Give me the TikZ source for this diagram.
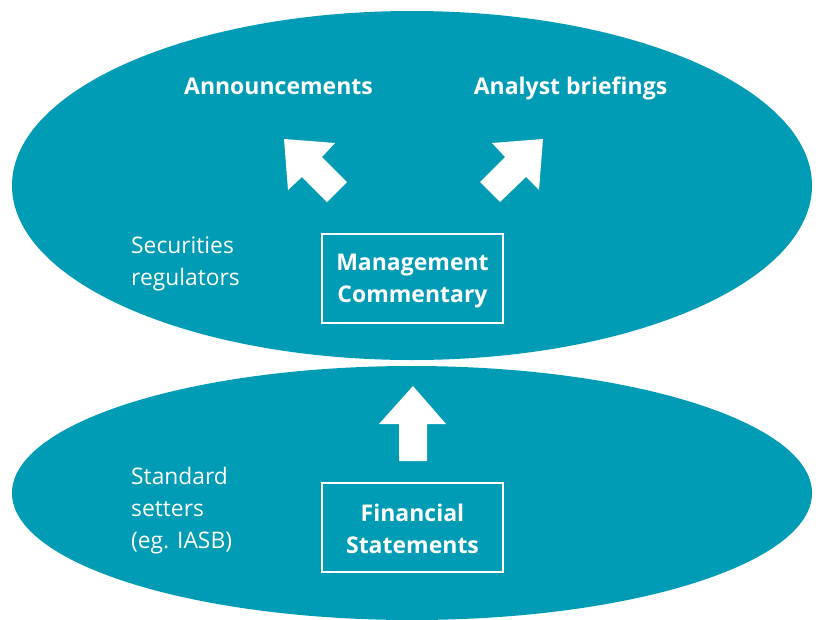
\documentclass[tikz,border=0pt]{standalone}
\usepackage{fontspec}
\setmainfont{Open Sans}
\usepackage{tikz}
\usetikzlibrary{positioning}

\definecolor{ovalteal}{RGB}{0,155,180}

\tikzset{
  label text/.style={text=white, font=\fontsize{22.8}{32}\selectfont, align=left, inner sep=0pt},
  head text/.style={text=white, font=\fontsize{23}{32}\selectfont\bfseries, inner sep=0pt},
  doc box/.style={draw=white, line width=2pt, text=white, font=\fontsize{23}{32}\selectfont\bfseries,
    align=center, minimum width=181pt, minimum height=89pt, inner sep=0pt},
  block arrow/.style={fill=white}
}

\begin{document}
\begin{tikzpicture}[x=1pt, y=-1pt]
    \useasboundingbox (0,0) rectangle (819,619);

    % Draw the two ovals
    \fill[ovalteal] (412,185.5) ellipse [x radius=400, y radius=174.5];
    \fill[ovalteal] (412,493) ellipse [x radius=400, y radius=127];

    % Outputs of the upper oval
    \node[head text, anchor=base] (announce) at (278.5,94.5) {Announcements};
    \node[head text, anchor=base] (briefings) at (570.5,94.5) {Analyst briefings};

    % Who sets the rules
    \node[label text, anchor=west] (regulators) at (131,264) {Securities\\regulators};
    \node[label text, anchor=west] (setters) at (131,511) {Standard\\setters\\(eg. IASB)};

    % The two reports
    \node[doc box] (commentary) at (412.5,278.5) {\rule{0pt}{22pt}Management\\Commentary};
    \node[doc box] (statements) at (412.5,527) {\rule{0pt}{22pt}Financial\\Statements};

    % Block arrows
    \fill[block arrow] (284,139) -- (335,143) -- (322,157) -- (347,182) -- (327,202) -- (302,177) -- (288,190) -- cycle;
    \fill[block arrow] (543,139) -- (539,190) -- (526,177) -- (500,202) -- (480,182) -- (505,157) -- (492,143) -- cycle;
    \fill[block arrow] (413,386) -- (446,424) -- (427,424) -- (427,461) -- (399,461) -- (399,424) -- (379,424) -- cycle;
\end{tikzpicture}
\end{document}
